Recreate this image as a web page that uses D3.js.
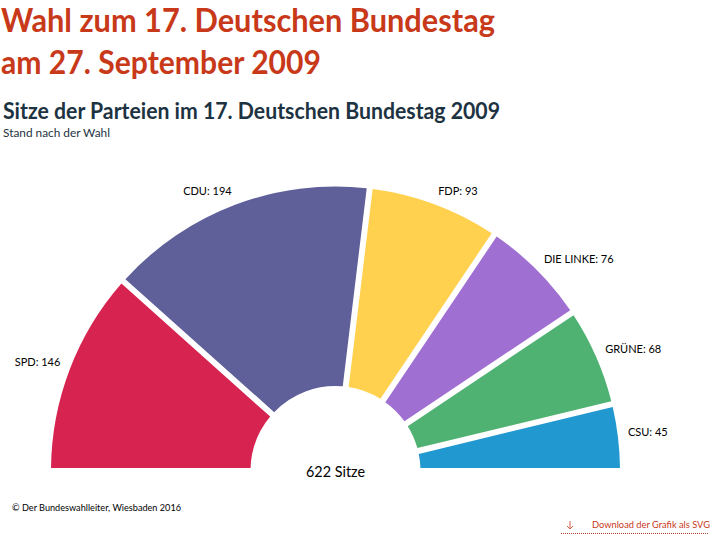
<!DOCTYPE html>
<html>
<head>
<meta charset="utf-8">
<script src="https://cdn.jsdelivr.net/npm/d3@7"></script>
<style>
  html, body { margin: 0; padding: 0; background: #fff; overflow: hidden; }
  text { font-family: Lato, "Open Sans", sans-serif; }
</style>
</head>
<body>
<div id="chart"></div>
<script>
const parties = ['SPD', 'CDU', 'FDP', 'DIE LINKE', 'GRÜNE', 'CSU'];
const seats = [146, 194, 93, 76, 68, 45];
// sweep of each slice in degrees, measured on the picture
const sweeps = [41.8, 55.1, 27.0, 22.3, 20.2, 13.6];
const colors = ['#d6234f', '#5f5f99', '#ffd14f', '#a06fd2', '#4fb273', '#2198d0'];
const totalLabel = '622 Sitze';

const width = 719, height = 546;
const cx = 335.5, cy = 471;

const svg = d3.select('#chart')
    .append('svg')
    .attr('width', width)
    .attr('height', height)
    .style('display', 'block');

// titles, squeezed to the width of the original font
svg.append('text').attr('x', 1).attr('y', 32)
    .attr('font-size', 33).attr('font-weight', 700).attr('fill', '#c8391a')
    .attr('textLength', 494).attr('lengthAdjust', 'spacingAndGlyphs')
    .text('Wahl zum 17. Deutschen Bundestag');
svg.append('text').attr('x', 1).attr('y', 74)
    .attr('font-size', 33).attr('font-weight', 700).attr('fill', '#c8391a')
    .attr('textLength', 320).attr('lengthAdjust', 'spacingAndGlyphs')
    .text('am 27. September 2009');
svg.append('text').attr('x', 3).attr('y', 119)
    .attr('font-size', 22).attr('font-weight', 700).attr('fill', '#1d3342')
    .attr('textLength', 497).attr('lengthAdjust', 'spacingAndGlyphs')
    .text('Sitze der Parteien im 17. Deutschen Bundestag 2009');
svg.append('text').attr('x', 3).attr('y', 137)
    .attr('font-size', 12).attr('fill', '#1d3342')
    .attr('textLength', 107).attr('lengthAdjust', 'spacingAndGlyphs')
    .text('Stand nach der Wahl');

// half circle, left to right
const pie = d3.pie()
    .sort(null)
    .startAngle(-Math.PI / 2)
    .endAngle(Math.PI / 2)
    .value(d => d);

const arc = d3.arc()
    .innerRadius(85)
    .outerRadius(284.5)
    .padRadius(284.5)
    .padAngle(0.021);

const labelArc = d3.arc().innerRadius(294.5).outerRadius(294.5);

const slices = pie(sweeps);
const g = svg.append('g').attr('transform', `translate(${cx},${cy})`);

g.selectAll('path')
    .data(slices)
    .join('path')
    .attr('fill', (d, i) => colors[i])
    .attr('d', arc);

g.selectAll('text')
    .data(slices)
    .join('text')
    .attr('x', d => labelArc.centroid(d)[0])
    .attr('y', d => labelArc.centroid(d)[1])
    .attr('text-anchor', d => labelArc.centroid(d)[0] < 0 ? 'end' : 'start')
    .attr('font-size', 11)
    .attr('fill', '#000')
    .text((d, i) => parties[i] + ': ' + seats[i]);

svg.append('text').attr('x', cx).attr('y', 477)
    .attr('text-anchor', 'middle')
    .attr('font-size', 15).attr('fill', '#000')
    .attr('textLength', 59).attr('lengthAdjust', 'spacingAndGlyphs')
    .text(totalLabel);

// footer
svg.append('text').attr('x', 12).attr('y', 511)
    .attr('font-size', 10).attr('fill', '#000')
    .attr('textLength', 169).attr('lengthAdjust', 'spacingAndGlyphs')
    .text('© Der Bundeswahlleiter, Wiesbaden 2016');

svg.append('path')
    .attr('d', 'M570 521v8M567 526l3 3l3-3')
    .attr('fill', 'none').attr('stroke', '#d0604a').attr('stroke-width', 1);
svg.append('text').attr('x', 592).attr('y', 528)
    .attr('font-size', 9.5).attr('fill', '#c8391a')
    .attr('textLength', 118).attr('lengthAdjust', 'spacingAndGlyphs')
    .text('Download der Grafik als SVG');
svg.append('line')
    .attr('x1', 561).attr('x2', 709).attr('y1', 533.5).attr('y2', 533.5)
    .attr('stroke', '#b5452c').attr('stroke-dasharray', '1,1');
</script>
</body>
</html>
